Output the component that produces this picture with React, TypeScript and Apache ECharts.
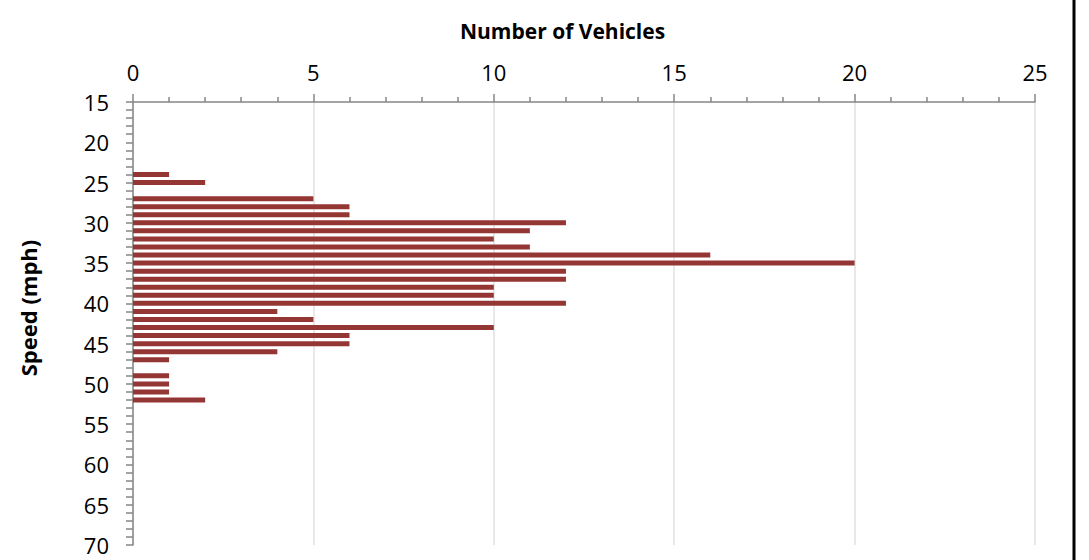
import React, { useEffect, useRef } from "react";
import * as echarts from "echarts";

const speedMin = 15;
const speedMax = 70;
const speeds = [24, 25, 27, 28, 29, 30, 31, 32, 33, 34, 35, 36, 37, 38, 39, 40, 41, 42, 43, 44, 45, 46, 47, 49, 50, 51, 52];
const counts = [1, 2, 5, 6, 6, 12, 11, 10, 11, 16, 20, 12, 12, 10, 10, 12, 4, 5, 10, 6, 6, 4, 1, 1, 1, 1, 2];
const xTitle = "Number of Vehicles";
const yTitle = "Speed (mph)";

const FONT = "'Open Sans', sans-serif";

export default function App() {
  const ref = useRef<HTMLDivElement>(null);
  useEffect(() => {
    if (!ref.current) return;
    const chart = echarts.init(ref.current, null, { renderer: "svg" });
    const categories: string[] = [];
    for (let s = speedMin; s <= speedMax; s++) categories.push(String(s));
    const data = categories.map((c) => {
      const i = speeds.indexOf(Number(c));
      return i >= 0 ? counts[i] : null;
    });
    chart.setOption({
      animation: false,
      backgroundColor: "#ffffff",
      textStyle: { fontFamily: FONT },
      grid: { left: 133, top: 102, right: 54, bottom: 15, containLabel: false },
      xAxis: {
        type: "value",
        position: "top",
        min: 0,
        max: 25,
        interval: 5,
        axisLine: { show: true, lineStyle: { color: "#868686", width: 1.5 } },
        axisTick: { show: true, length: 8, lineStyle: { color: "#868686", width: 1.5 } },
        minorTick: { show: true, splitNumber: 5, length: 5, lineStyle: { color: "#868686", width: 1.5 } },
        splitLine: { show: true, lineStyle: { color: "#e0e0e0", width: 1.5 } },
        axisLabel: { color: "#000", fontSize: 22, fontFamily: FONT, margin: 19 },
      },
      yAxis: {
        type: "category",
        inverse: true,
        boundaryGap: false,
        data: categories,
        axisLine: { show: true, lineStyle: { color: "#868686", width: 1.5 } },
        axisTick: { show: true, interval: 0, length: 7, lineStyle: { color: "#868686", width: 1.5 } },
        splitLine: { show: false },
        axisLabel: { color: "#000", fontSize: 22, fontFamily: FONT, margin: 24, interval: 4 },
      },
      title: {
        text: xTitle,
        left: 455,
        top: 15,
        textStyle: { fontSize: 21, fontWeight: "bold", color: "#000", fontFamily: FONT },
      },
      graphic: [
        {
          type: "text",
          x: 28,
          y: 308,
          rotation: Math.PI / 2,
          style: {
            text: yTitle,
            fontSize: 22,
            fontWeight: "bold",
            fill: "#000",
            fontFamily: FONT,
            textAlign: "center",
            textVerticalAlign: "middle",
          },
        },
        {
          type: "line",
          shape: { x1: 1074, y1: 0, x2: 1074, y2: 560 },
          style: { stroke: "#000", lineWidth: 3 },
        },
      ],
      series: [
        {
          type: "bar",
          data,
          barWidth: 5,
          itemStyle: { color: "#943634" },
        },
      ],
    });
    return () => chart.dispose();
  }, []);
  return <div ref={ref} style={{ position: "fixed", left: 0, top: 0, width: 1089, height: 560 }} />;
}
